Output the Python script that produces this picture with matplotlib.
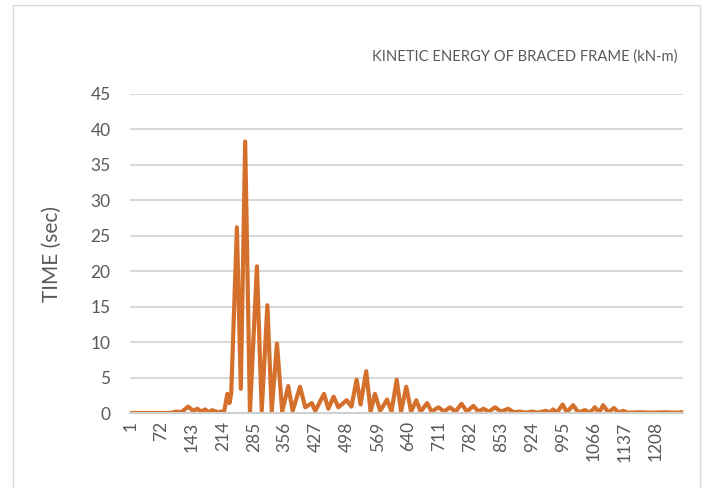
import matplotlib.pyplot as plt
from matplotlib.patches import Rectangle

n_points = 1270
sample_idx = [1, 93, 107, 118, 134, 146, 155, 164, 173, 182, 189, 203, 217, 224,
              229, 233, 246, 255, 265, 276, 292, 303, 316, 326, 338, 350, 364, 374,
              391, 403, 418, 426, 446, 456, 468, 479, 498, 509, 521, 530, 543, 553,
              563, 575, 591, 601, 613, 623, 635, 646, 658, 668, 683, 693, 709, 722,
              735, 748, 762, 774, 789, 801, 812, 825, 839, 852, 869, 882, 896, 910,
              924, 937, 956, 965, 972, 981, 994, 1004, 1018, 1030, 1045, 1057, 1068,
              1078, 1087, 1099, 1112, 1123, 1133, 1144, 1170, 1200, 1230, 1255, 1270]
energy = [0.0, 0.0, 0.2, 0.1, 0.9, 0.3, 0.6, 0.2, 0.5, 0.1, 0.4, 0.1, 0.3, 2.7,
          1.4, 2.8, 26.2, 3.4, 38.3, 0.1, 20.7, 0.3, 15.2, 0.3, 9.8, 0.2, 3.8, 0.3,
          3.7, 0.8, 1.4, 0.3, 2.7, 0.6, 2.3, 0.8, 1.8, 0.9, 4.7, 1.2, 5.9, 0.2,
          2.7, 0.3, 1.9, 0.2, 4.7, 0.2, 3.7, 0.2, 1.8, 0.2, 1.4, 0.2, 0.8, 0.2,
          0.8, 0.2, 1.3, 0.2, 1.0, 0.2, 0.6, 0.2, 0.8, 0.2, 0.6, 0.1, 0.2, 0.05,
          0.2, 0.05, 0.3, 0.05, 0.5, 0.05, 1.2, 0.1, 1.1, 0.1, 0.4, 0.05, 0.8,
          0.05, 1.1, 0.1, 0.7, 0.05, 0.3, 0.05, 0.1, 0.05, 0.1, 0.05, 0.1]

tick_pos = list(range(1, 1209, 71))
tick_labels = [str(t) for t in tick_pos]
y_ticks = [0, 5, 10, 15, 20, 25, 30, 35, 40, 45]

text_col = '#595959'
grid_col = '#d9d9d9'
font = 'Lato'

fig = plt.figure(figsize=(7.17, 4.88), dpi=100)
ax = fig.add_axes([130 / 717, 1 - 413 / 488, 553 / 717, 319 / 488])

ax.plot(sample_idx, energy, color='#d5702c', linewidth=3.0,
        solid_joinstyle='round', solid_capstyle='round')

ax.set_xlim(0.5, n_points + 0.5)
ax.set_ylim(0, 45)
ax.set_yticks(y_ticks)
ax.set_xticks(tick_pos)
ax.set_xticklabels(tick_labels, rotation=90)
ax.tick_params(axis='both', length=0, labelsize=12.5, labelcolor=text_col)
ax.tick_params(axis='x', pad=6)
ax.tick_params(axis='y', pad=14)
ax.yaxis.grid(True, color=grid_col, linewidth=1.5)
ax.set_axisbelow(True)
for s in ['top', 'right', 'left']:
    ax.spines[s].set_visible(False)
ax.spines['bottom'].set_color('#d0d0d0')
ax.spines['bottom'].set_linewidth(1.5)

for lab in ax.get_xticklabels() + ax.get_yticklabels():
    lab.set_family(font)

ax.set_ylabel('TIME (sec)', fontsize=15, color=text_col, family=font)
ax.yaxis.set_label_coords(-(130 - 62) / 553, 0.5)
fig.text(525 / 717, 1 - 57 / 488, 'KINETIC ENERGY OF BRACED FRAME (kN-m)', ha='center',
         va='center', fontsize=10.6, color=text_col, family=font)

# chart area border
fig.patches.append(Rectangle((13 / 717, -0.05), 687 / 717, 1.04, transform=fig.transFigure,
                             fill=False, edgecolor=grid_col, linewidth=1))

fig.savefig('out.png', dpi=100)
